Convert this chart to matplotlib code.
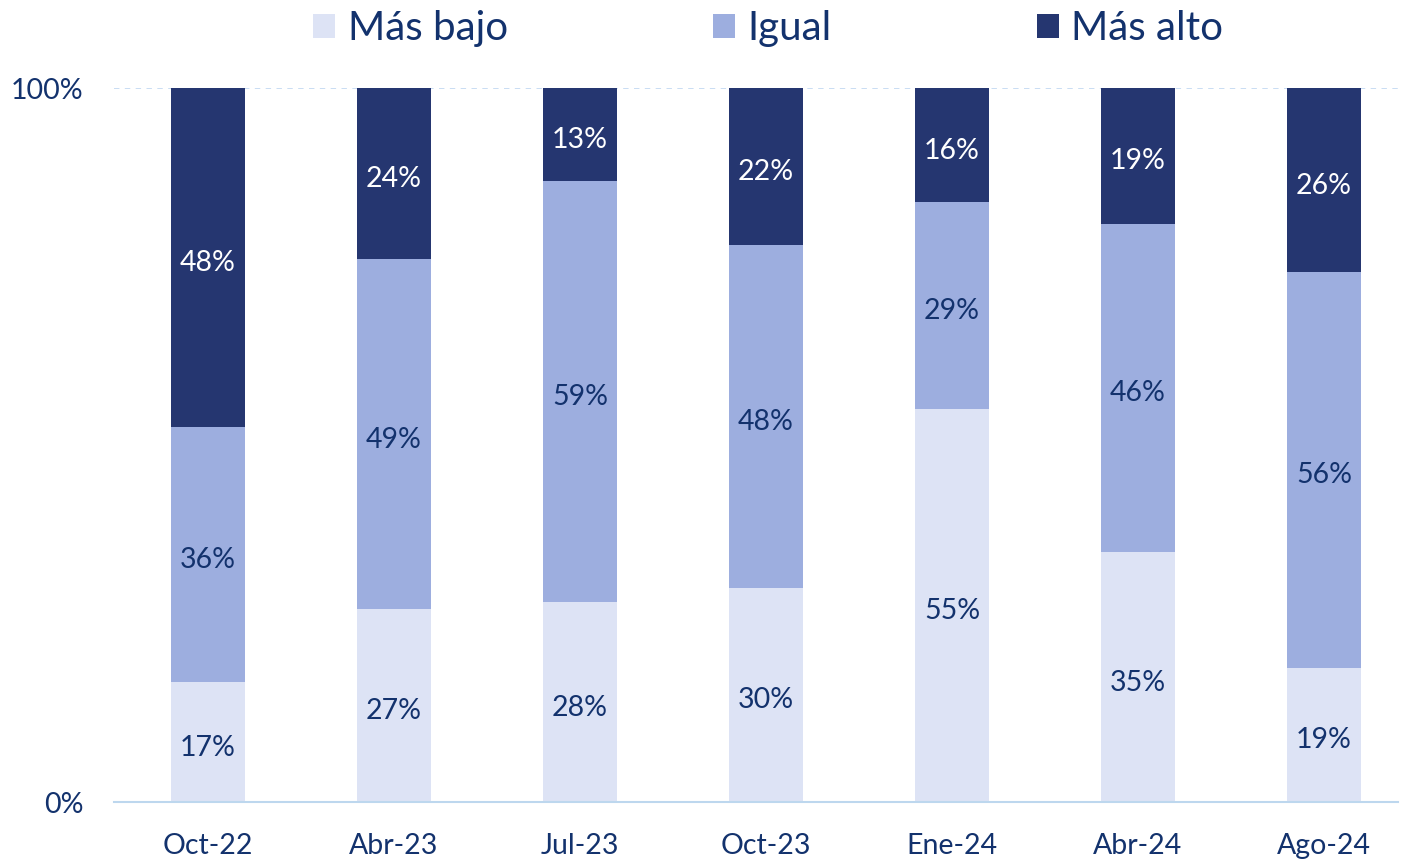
import numpy as np
import matplotlib.pyplot as plt
from matplotlib.patches import Patch

# datos
categorias = ["Oct-22", "Abr-23", "Jul-23", "Oct-23", "Ene-24", "Abr-24", "Ago-24"]
mas_bajo = [17, 27, 28, 30, 55, 35, 19]
igual = [36, 49, 59, 48, 29, 46, 56]
mas_alto = [48, 24, 13, 22, 16, 19, 26]
series_nombres = ["Más bajo", "Igual", "Más alto"]

colores = ["#DDE3F5", "#9DAEDF", "#253670"]
color_texto = "#13326D"
color_etiqueta = [color_texto, color_texto, "white"]

plt.rcParams["font.family"] = ["Lato", "DejaVu Sans"]

fig = plt.figure(figsize=(14.02, 8.6), dpi=100)
ax = fig.add_axes([0.0813, 0.0674, 0.9158, 0.8302])

x = np.arange(len(categorias))
datos = np.array([mas_bajo, igual, mas_alto], dtype=float)
totales = datos.sum(axis=0)
fracs = datos / totales  # barras al 100%

base = np.zeros(len(categorias))
for i, nombre in enumerate(series_nombres):
    ax.bar(x, fracs[i], bottom=base, width=0.4, color=colores[i], zorder=2)
    for j in range(len(categorias)):
        ax.annotate(f"{int(datos[i][j])}%", (x[j], base[j] + fracs[i][j] / 2),
                    xytext=(0, -4), textcoords="offset points",
                    ha="center", va="center", fontsize=20.5, color=color_etiqueta[i], zorder=3)
    base += fracs[i]

ax.set_xlim(-0.505, 6.398)
ax.set_ylim(0, 1)
ax.set_yticks([0, 1])
ax.set_yticklabels(["0%", "100%"])
ax.set_xticks(x)
ax.set_xticklabels(categorias)
ax.tick_params(axis="both", length=0, labelsize=20.5, labelcolor=color_texto)
ax.tick_params(axis="x", pad=22)
ax.tick_params(axis="y", pad=22)

for s in ["top", "right", "left"]:
    ax.spines[s].set_visible(False)
ax.spines["bottom"].set_color("#BDD7EE")
ax.spines["bottom"].set_linewidth(1.5)
ax.axhline(1, color="#C5DAF2", linestyle=(0, (3, 3)), linewidth=1.3, zorder=1)

handles = [Patch(facecolor=c) for c in colores]
fig.legend(handles, series_nombres, loc="upper center", bbox_to_anchor=(0.548, 1.03), ncol=3,
           frameon=False, fontsize=29, labelcolor=color_texto, handlelength=0.55, handleheight=0.55,
           handletextpad=0.3, columnspacing=5.1)

fig.savefig("out.png", dpi=100)
